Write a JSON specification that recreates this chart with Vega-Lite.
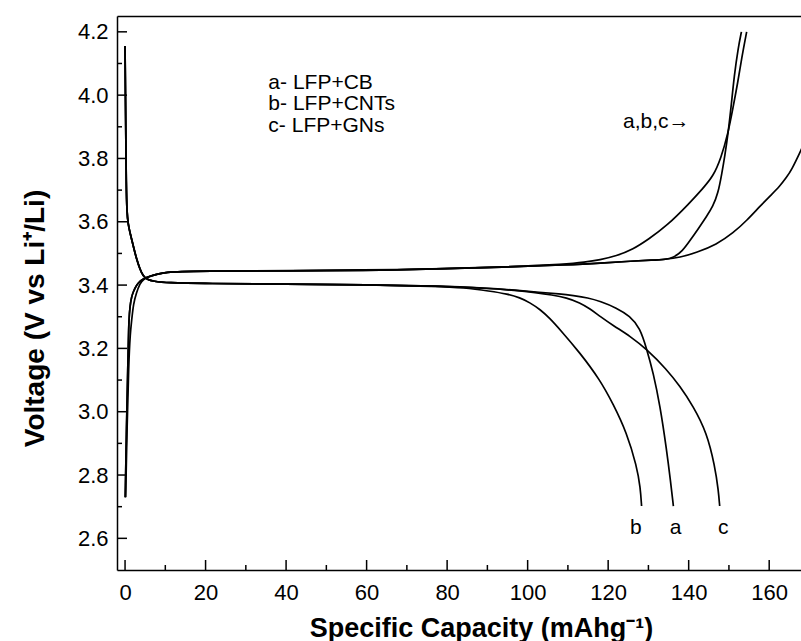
{
  "$schema": "https://vega.github.io/schema/vega-lite/v6.json",
  "width": 684,
  "height": 554,
  "autosize": "none",
  "padding": {"left": 117, "top": 16, "right": 0, "bottom": 71},
  "background": "white",
  "config": {
    "view": {"stroke": null},
    "axis": {
      "domainColor": "black", "domainWidth": 1.5,
      "labelColor": "black", "labelFont": "Liberation Sans", "labelFontSize": 22,
      "titleColor": "black", "titleFont": "Liberation Sans", "titleFontWeight": "bold",
      "grid": false
    },
    "text": {"font": "Liberation Sans"}
  },
  "datasets": {
    "curves": [
      {"s":"dis-a","i":1,"x":0,"v":4.155},{"s":"dis-a","i":2,"x":0.1,"v":4.0},{"s":"dis-a","i":3,"x":0.2,"v":3.86},{"s":"dis-a","i":4,"x":0.3,"v":3.72},{"s":"dis-a","i":5,"x":0.45,"v":3.63},{"s":"dis-a","i":6,"x":0.8,"v":3.59},{"s":"dis-a","i":7,"x":1.24,"v":3.565},{"s":"dis-a","i":8,"x":1.66,"v":3.544},{"s":"dis-a","i":9,"x":2.3,"v":3.51},{"s":"dis-a","i":10,"x":2.9,"v":3.481},{"s":"dis-a","i":11,"x":3.7,"v":3.45},{"s":"dis-a","i":12,"x":4.5,"v":3.428},{"s":"dis-a","i":13,"x":5.5,"v":3.418},{"s":"dis-a","i":14,"x":7,"v":3.412},{"s":"dis-a","i":15,"x":10.4,"v":3.407},{"s":"dis-a","i":16,"x":20,"v":3.405},{"s":"dis-a","i":17,"x":40,"v":3.403},{"s":"dis-a","i":18,"x":60,"v":3.401},{"s":"dis-a","i":19,"x":78,"v":3.397},
      {"s":"dis-a","i":20,"x":90,"v":3.39},{"s":"dis-a","i":21,"x":97,"v":3.384},{"s":"dis-a","i":22,"x":103,"v":3.377},{"s":"dis-a","i":23,"x":108,"v":3.372},{"s":"dis-a","i":24,"x":111.3,"v":3.367},{"s":"dis-a","i":25,"x":115,"v":3.36},{"s":"dis-a","i":26,"x":118,"v":3.349},{"s":"dis-a","i":27,"x":122.1,"v":3.328},{"s":"dis-a","i":28,"x":125.4,"v":3.302},{"s":"dis-a","i":29,"x":127.9,"v":3.265},{"s":"dis-a","i":30,"x":129.6,"v":3.197},{"s":"dis-a","i":31,"x":131.2,"v":3.123},{"s":"dis-a","i":32,"x":132.9,"v":3.018},{"s":"dis-a","i":33,"x":134.5,"v":2.881},{"s":"dis-a","i":34,"x":135.5,"v":2.78},{"s":"dis-a","i":35,"x":136.2,"v":2.702},

      {"s":"dis-b","i":1,"x":0,"v":4.155},{"s":"dis-b","i":2,"x":0.1,"v":4.0},{"s":"dis-b","i":3,"x":0.2,"v":3.86},{"s":"dis-b","i":4,"x":0.3,"v":3.72},{"s":"dis-b","i":5,"x":0.45,"v":3.63},{"s":"dis-b","i":6,"x":0.8,"v":3.59},{"s":"dis-b","i":7,"x":1.24,"v":3.565},{"s":"dis-b","i":8,"x":1.66,"v":3.544},{"s":"dis-b","i":9,"x":2.3,"v":3.51},{"s":"dis-b","i":10,"x":2.9,"v":3.481},{"s":"dis-b","i":11,"x":3.7,"v":3.45},{"s":"dis-b","i":12,"x":4.5,"v":3.428},{"s":"dis-b","i":13,"x":5.5,"v":3.418},{"s":"dis-b","i":14,"x":7,"v":3.412},{"s":"dis-b","i":15,"x":10.4,"v":3.407},{"s":"dis-b","i":16,"x":20,"v":3.405},{"s":"dis-b","i":17,"x":40,"v":3.403},{"s":"dis-b","i":18,"x":60,"v":3.401},{"s":"dis-b","i":19,"x":78,"v":3.396},
      {"s":"dis-b","i":20,"x":84,"v":3.392},{"s":"dis-b","i":21,"x":90.6,"v":3.381},{"s":"dis-b","i":22,"x":95,"v":3.372},{"s":"dis-b","i":23,"x":98.1,"v":3.36},{"s":"dis-b","i":24,"x":100.5,"v":3.345},{"s":"dis-b","i":25,"x":103.1,"v":3.323},{"s":"dis-b","i":26,"x":105.5,"v":3.295},{"s":"dis-b","i":27,"x":108,"v":3.26},{"s":"dis-b","i":28,"x":113,"v":3.186},{"s":"dis-b","i":29,"x":117.9,"v":3.102},{"s":"dis-b","i":30,"x":121.3,"v":3.023},{"s":"dis-b","i":31,"x":124.6,"v":2.934},{"s":"dis-b","i":32,"x":127.1,"v":2.828},{"s":"dis-b","i":33,"x":128,"v":2.76},{"s":"dis-b","i":34,"x":128.3,"v":2.702},

      {"s":"dis-c","i":1,"x":0,"v":4.155},{"s":"dis-c","i":2,"x":0.1,"v":4.0},{"s":"dis-c","i":3,"x":0.2,"v":3.86},{"s":"dis-c","i":4,"x":0.3,"v":3.72},{"s":"dis-c","i":5,"x":0.45,"v":3.63},{"s":"dis-c","i":6,"x":0.8,"v":3.59},{"s":"dis-c","i":7,"x":1.24,"v":3.565},{"s":"dis-c","i":8,"x":1.66,"v":3.544},{"s":"dis-c","i":9,"x":2.3,"v":3.51},{"s":"dis-c","i":10,"x":2.9,"v":3.481},{"s":"dis-c","i":11,"x":3.7,"v":3.45},{"s":"dis-c","i":12,"x":4.5,"v":3.428},{"s":"dis-c","i":13,"x":5.5,"v":3.418},{"s":"dis-c","i":14,"x":7,"v":3.412},{"s":"dis-c","i":15,"x":10.4,"v":3.407},{"s":"dis-c","i":16,"x":20,"v":3.405},{"s":"dis-c","i":17,"x":40,"v":3.403},{"s":"dis-c","i":18,"x":60,"v":3.401},{"s":"dis-c","i":19,"x":78,"v":3.397},
      {"s":"dis-c","i":20,"x":90,"v":3.39},{"s":"dis-c","i":21,"x":97,"v":3.383},{"s":"dis-c","i":22,"x":102,"v":3.376},{"s":"dis-c","i":23,"x":106,"v":3.369},{"s":"dis-c","i":24,"x":109.7,"v":3.36},{"s":"dis-c","i":25,"x":113,"v":3.344},{"s":"dis-c","i":26,"x":115.5,"v":3.325},{"s":"dis-c","i":27,"x":117.9,"v":3.302},{"s":"dis-c","i":28,"x":121.5,"v":3.27},{"s":"dis-c","i":29,"x":125.4,"v":3.239},{"s":"dis-c","i":30,"x":129.6,"v":3.197},{"s":"dis-c","i":31,"x":134.5,"v":3.134},{"s":"dis-c","i":32,"x":137.8,"v":3.081},{"s":"dis-c","i":33,"x":141.1,"v":3.018},{"s":"dis-c","i":34,"x":144.5,"v":2.934},{"s":"dis-c","i":35,"x":146.5,"v":2.828},{"s":"dis-c","i":36,"x":147.4,"v":2.75},{"s":"dis-c","i":37,"x":147.7,"v":2.702},

      {"s":"ch-a","i":1,"x":0.05,"v":2.73},{"s":"ch-a","i":2,"x":0.35,"v":2.95},{"s":"ch-a","i":3,"x":0.7,"v":3.15},{"s":"ch-a","i":4,"x":0.83,"v":3.22},{"s":"ch-a","i":5,"x":0.95,"v":3.29},{"s":"ch-a","i":6,"x":1.24,"v":3.335},{"s":"ch-a","i":7,"x":1.6,"v":3.362},{"s":"ch-a","i":8,"x":2.07,"v":3.38},{"s":"ch-a","i":9,"x":2.9,"v":3.401},{"s":"ch-a","i":10,"x":3.7,"v":3.412},{"s":"ch-a","i":11,"x":4.5,"v":3.42},{"s":"ch-a","i":12,"x":6.2,"v":3.428},{"s":"ch-a","i":13,"x":8,"v":3.435},{"s":"ch-a","i":14,"x":10.4,"v":3.441},{"s":"ch-a","i":15,"x":14,"v":3.443},{"s":"ch-a","i":16,"x":18.6,"v":3.444},{"s":"ch-a","i":17,"x":40,"v":3.445},{"s":"ch-a","i":18,"x":68,"v":3.447},{"s":"ch-a","i":19,"x":93,"v":3.456},{"s":"ch-a","i":20,"x":110,"v":3.464},
      {"s":"ch-a","i":21,"x":118,"v":3.469},{"s":"ch-a","i":22,"x":126,"v":3.476},{"s":"ch-a","i":23,"x":131,"v":3.479},{"s":"ch-a","i":24,"x":134,"v":3.481},{"s":"ch-a","i":25,"x":136.2,"v":3.486},{"s":"ch-a","i":26,"x":138.5,"v":3.508},{"s":"ch-a","i":27,"x":140.3,"v":3.54},{"s":"ch-a","i":28,"x":142.5,"v":3.58},{"s":"ch-a","i":29,"x":144.5,"v":3.618},{"s":"ch-a","i":30,"x":146,"v":3.648},{"s":"ch-a","i":31,"x":147.3,"v":3.69},{"s":"ch-a","i":32,"x":148.2,"v":3.75},{"s":"ch-a","i":33,"x":149,"v":3.81},{"s":"ch-a","i":34,"x":149.8,"v":3.88},{"s":"ch-a","i":35,"x":150.6,"v":3.97},{"s":"ch-a","i":36,"x":151.3,"v":4.06},{"s":"ch-a","i":37,"x":152.3,"v":4.15},{"s":"ch-a","i":38,"x":153.1,"v":4.2},

      {"s":"ch-b","i":1,"x":0.15,"v":2.73},{"s":"ch-b","i":2,"x":0.5,"v":2.95},{"s":"ch-b","i":3,"x":0.9,"v":3.15},{"s":"ch-b","i":4,"x":1.3,"v":3.25},{"s":"ch-b","i":5,"x":1.66,"v":3.29},{"s":"ch-b","i":6,"x":2.07,"v":3.34},{"s":"ch-b","i":7,"x":2.8,"v":3.375},{"s":"ch-b","i":8,"x":3.7,"v":3.405},{"s":"ch-b","i":9,"x":4.5,"v":3.418},{"s":"ch-b","i":10,"x":6.2,"v":3.428},{"s":"ch-b","i":11,"x":8,"v":3.435},{"s":"ch-b","i":12,"x":10.4,"v":3.441},{"s":"ch-b","i":13,"x":14,"v":3.443},{"s":"ch-b","i":14,"x":18.6,"v":3.444},{"s":"ch-b","i":15,"x":40,"v":3.446},{"s":"ch-b","i":16,"x":68,"v":3.448},{"s":"ch-b","i":17,"x":93,"v":3.457},{"s":"ch-b","i":18,"x":110,"v":3.466},
      {"s":"ch-b","i":19,"x":114,"v":3.472},{"s":"ch-b","i":20,"x":118,"v":3.48},{"s":"ch-b","i":21,"x":122,"v":3.492},{"s":"ch-b","i":22,"x":126.2,"v":3.513},{"s":"ch-b","i":23,"x":130,"v":3.545},{"s":"ch-b","i":24,"x":134.5,"v":3.586},{"s":"ch-b","i":25,"x":140.3,"v":3.66},{"s":"ch-b","i":26,"x":143.5,"v":3.705},{"s":"ch-b","i":27,"x":146.1,"v":3.744},{"s":"ch-b","i":28,"x":148,"v":3.8},{"s":"ch-b","i":29,"x":149.8,"v":3.88},{"s":"ch-b","i":30,"x":151,"v":3.96},{"s":"ch-b","i":31,"x":152.2,"v":4.04},{"s":"ch-b","i":32,"x":153.2,"v":4.12},{"s":"ch-b","i":33,"x":154.4,"v":4.2},

      {"s":"ch-c","i":1,"x":0.05,"v":2.73},{"s":"ch-c","i":2,"x":0.35,"v":2.95},{"s":"ch-c","i":3,"x":0.7,"v":3.15},{"s":"ch-c","i":4,"x":0.83,"v":3.22},{"s":"ch-c","i":5,"x":0.95,"v":3.29},{"s":"ch-c","i":6,"x":1.24,"v":3.335},{"s":"ch-c","i":7,"x":1.6,"v":3.362},{"s":"ch-c","i":8,"x":2.07,"v":3.38},{"s":"ch-c","i":9,"x":2.9,"v":3.401},{"s":"ch-c","i":10,"x":3.7,"v":3.412},{"s":"ch-c","i":11,"x":4.5,"v":3.42},{"s":"ch-c","i":12,"x":6.2,"v":3.428},{"s":"ch-c","i":13,"x":8,"v":3.435},{"s":"ch-c","i":14,"x":10.4,"v":3.441},{"s":"ch-c","i":15,"x":14,"v":3.443},{"s":"ch-c","i":16,"x":18.6,"v":3.444},{"s":"ch-c","i":17,"x":40,"v":3.445},{"s":"ch-c","i":18,"x":68,"v":3.447},{"s":"ch-c","i":19,"x":93,"v":3.456},{"s":"ch-c","i":20,"x":110,"v":3.464},
      {"s":"ch-c","i":21,"x":118,"v":3.469},{"s":"ch-c","i":22,"x":126,"v":3.476},{"s":"ch-c","i":23,"x":131,"v":3.479},{"s":"ch-c","i":24,"x":134,"v":3.481},{"s":"ch-c","i":25,"x":137.8,"v":3.487},{"s":"ch-c","i":26,"x":142,"v":3.503},{"s":"ch-c","i":27,"x":146.9,"v":3.528},{"s":"ch-c","i":28,"x":151.1,"v":3.565},{"s":"ch-c","i":29,"x":154.5,"v":3.605},{"s":"ch-c","i":30,"x":157.7,"v":3.649},{"s":"ch-c","i":31,"x":160.5,"v":3.685},{"s":"ch-c","i":32,"x":162.6,"v":3.712},{"s":"ch-c","i":33,"x":164.3,"v":3.74},{"s":"ch-c","i":34,"x":165.6,"v":3.765},{"s":"ch-c","i":35,"x":167.6,"v":3.818},{"s":"ch-c","i":36,"x":169.5,"v":3.87}
    ],
    "notes": [
      {"x":35.6,"v":4.018,"t":"a- LFP+CB"},
      {"x":35.6,"v":3.952,"t":"b- LFP+CNTs"},
      {"x":35.6,"v":3.884,"t":"c- LFP+GNs"},
      {"x":123.7,"v":3.897,"t":"a,b,c→"},
      {"x":125.4,"v":2.614,"t":"b"},
      {"x":135.3,"v":2.614,"t":"a"},
      {"x":147.3,"v":2.614,"t":"c"}
    ],
    "xmajor": [{"x":0},{"x":20},{"x":40},{"x":60},{"x":80},{"x":100},{"x":120},{"x":140},{"x":160}],
    "xminor": [{"x":10},{"x":30},{"x":50},{"x":70},{"x":90},{"x":110},{"x":130},{"x":150}],
    "ymajor": [{"v":2.6},{"v":2.8},{"v":3.0},{"v":3.2},{"v":3.4},{"v":3.6},{"v":3.8},{"v":4.0},{"v":4.2}],
    "yminor": [{"v":2.7},{"v":2.9},{"v":3.1},{"v":3.3},{"v":3.5},{"v":3.7},{"v":3.9},{"v":4.1}]
  },
  "resolve": {"axis": {"x": "independent", "y": "independent"}},
  "layer": [
    {
      "data": {"name": "curves"},
      "mark": {"type": "line", "color": "black", "strokeWidth": 1.7, "interpolate": "basis", "clip": true},
      "encoding": {
        "x": {"field": "x", "type": "quantitative",
              "scale": {"domain": [-2, 167.9], "nice": false, "zero": false},
              "axis": {"orient": "bottom", "values": [0,20,40,60,80,100,120,140,160], "ticks": false, "labelPadding": 12,
                       "title": "Specific Capacity (mAhg⁻¹)", "titleFontSize": 27,
                       "titleX": 364, "titleY": 66, "titleBaseline": "alphabetic", "titleAlign": "center", "titleAngle": 0}},
        "y": {"field": "v", "type": "quantitative",
              "scale": {"domain": [2.5, 4.25], "nice": false, "zero": false},
              "axis": {"orient": "left", "values": [2.6,2.8,3.0,3.2,3.4,3.6,3.8,4.0,4.2], "format": ".1f", "ticks": false, "labelPadding": 9,
                       "title": "Voltage (V vs Li⁺/Li)", "titleFontSize": 28,
                       "titleX": -74, "titleY": 302, "titleBaseline": "alphabetic", "titleAlign": "center", "titleAngle": -90}},
        "detail": {"field": "s"},
        "order": {"field": "i", "type": "quantitative"}
      }
    },
    {
      "data": {"name": "notes"},
      "mark": {"type": "text", "align": "left", "baseline": "alphabetic", "fontSize": 21, "color": "black"},
      "encoding": {
        "x": {"field": "x", "type": "quantitative",
              "scale": {"domain": [-2, 167.9], "nice": false, "zero": false},
              "axis": {"orient": "top", "ticks": false, "labels": false, "domain": true, "title": null}},
        "y": {"field": "v", "type": "quantitative",
              "scale": {"domain": [2.5, 4.25], "nice": false, "zero": false},
              "axis": null},
        "text": {"field": "t"}
      }
    },
    {
      "data": {"name": "xmajor"},
      "mark": {"type": "rule", "color": "black", "strokeWidth": 1.5},
      "encoding": {
        "x": {"field": "x", "type": "quantitative", "scale": {"domain": [-2, 167.9], "nice": false, "zero": false}, "axis": null},
        "y": {"datum": 2.5, "type": "quantitative", "scale": {"domain": [2.5, 4.25], "nice": false, "zero": false}, "axis": null},
        "y2": {"datum": 2.5316}
      }
    },
    {
      "data": {"name": "xminor"},
      "mark": {"type": "rule", "color": "black", "strokeWidth": 1.5},
      "encoding": {
        "x": {"field": "x", "type": "quantitative", "scale": {"domain": [-2, 167.9], "nice": false, "zero": false}, "axis": null},
        "y": {"datum": 2.5, "type": "quantitative", "scale": {"domain": [2.5, 4.25], "nice": false, "zero": false}, "axis": null},
        "y2": {"datum": 2.5158}
      }
    },
    {
      "data": {"name": "ymajor"},
      "mark": {"type": "rule", "color": "black", "strokeWidth": 1.5},
      "encoding": {
        "y": {"field": "v", "type": "quantitative", "scale": {"domain": [2.5, 4.25], "nice": false, "zero": false}, "axis": null},
        "x": {"datum": -2, "type": "quantitative", "scale": {"domain": [-2, 167.9], "nice": false, "zero": false}, "axis": null},
        "x2": {"datum": 0.484}
      }
    },
    {
      "data": {"name": "yminor"},
      "mark": {"type": "rule", "color": "black", "strokeWidth": 1.5},
      "encoding": {
        "y": {"field": "v", "type": "quantitative", "scale": {"domain": [2.5, 4.25], "nice": false, "zero": false}, "axis": null},
        "x": {"datum": -2, "type": "quantitative", "scale": {"domain": [-2, 167.9], "nice": false, "zero": false}, "axis": null},
        "x2": {"datum": -0.758}
      }
    }
  ]
}
